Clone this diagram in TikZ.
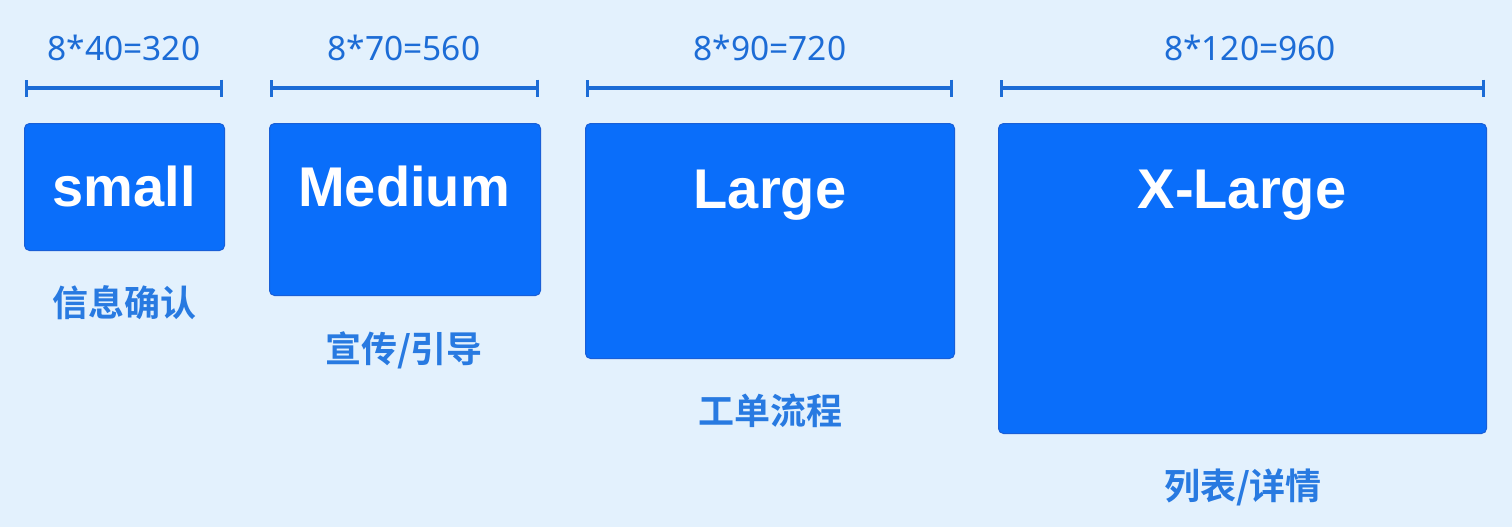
\documentclass[tikz,border=0pt]{standalone}
\usepackage{fontspec}
\setmainfont{Noto Sans}
\newfontfamily\cjk{Noto Sans CJK SC}[BoldFont={Noto Sans CJK SC Bold}]
\newfontfamily\boxfont{Liberation Sans}
\usetikzlibrary{arrows.meta}
\definecolor{bgc}{RGB}{227,241,253}
\definecolor{boxc}{RGB}{10,110,250}
\definecolor{boxb}{RGB}{25,95,215}
\definecolor{dimc}{RGB}{28,108,214}
\definecolor{capc}{RGB}{40,122,225}
\tikzset{
  sizebox/.style={draw=boxb, line width=1pt, fill=boxc, rounded corners=5pt, inner sep=0pt, anchor=north west},
  boxtext/.style={text=white, font=\boxfont\fontsize{56}{62}\selectfont\bfseries, inner sep=0pt, anchor=base},
  dimline/.style={draw=dimc, line width=3.2pt, {Bar[width=17pt,line width=3.2pt]}-{Bar[width=17pt,line width=3.2pt]}},
  dimtext/.style={text=dimc, font=\fontsize{33.5}{38}\selectfont, inner sep=0pt},
  captext/.style={text=capc, font=\cjk\fontsize{36}{40}\selectfont\bfseries, inner sep=0pt}
}
\begin{document}
\begin{tikzpicture}[x=1pt,y=-1pt]
\fill[bgc] (0,0) rectangle (1512,527);
\useasboundingbox (0,0) rectangle (1512,527);
% boxes
\node[sizebox, minimum width=200pt, minimum height=127pt] (b1) at (24,123) {};
\node[sizebox, minimum width=271pt, minimum height=172pt] (b2) at (269,123) {};
\node[sizebox, minimum width=369pt, minimum height=235pt] (b3) at (585,123) {};
\node[sizebox, minimum width=488pt, minimum height=310pt] (b4) at (998,123) {};
% box texts
\node[boxtext] (t1) at (124,206) {small};
\node[boxtext] (t2) at (404,206) {Medium};
\node[boxtext] (t3) at (770,208) {Large};
\node[boxtext] (t4) at (1242,208) {X-Large};
% dimension lines
\coordinate (d1a) at (25,88); \coordinate (d1b) at (223,88);
\coordinate (d2a) at (270,88); \coordinate (d2b) at (539,88);
\coordinate (d3a) at (586,88); \coordinate (d3b) at (953,88);
\coordinate (d4a) at (1000,88); \coordinate (d4b) at (1485,88);
\draw[dimline] (d1a) -- (d1b);
\draw[dimline] (d2a) -- (d2b);
\draw[dimline] (d3a) -- (d3b);
\draw[dimline] (d4a) -- (d4b);
% dimension labels
\node[dimtext] (w1) at (124,48) {8*40=320};
\node[dimtext] (w2) at (404,48) {8*70=560};
\node[dimtext] (w3) at (770,48) {8*90=720};
\node[dimtext] (w4) at (1250,48) {8*120=960};
% captions
\node[captext] (c1) at (124,303) {信息确认};
\node[captext] (c2) at (404,350) {宣传/引导};
\node[captext] (c3) at (770,411) {工单流程};
\node[captext] (c4) at (1243,487) {列表/详情};
\end{tikzpicture}
\end{document}
